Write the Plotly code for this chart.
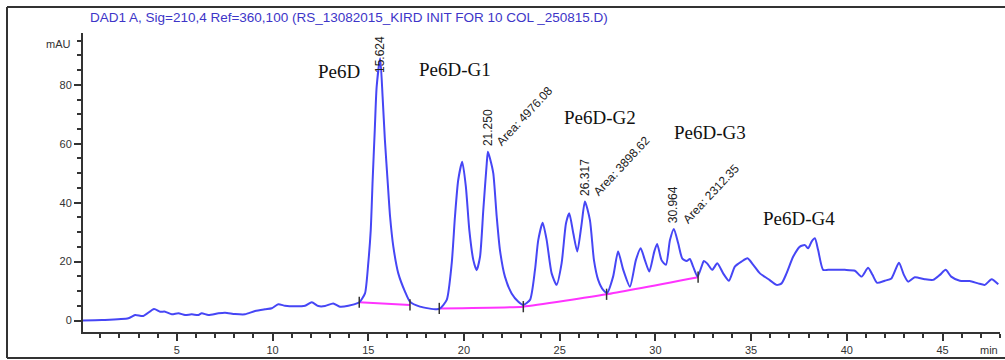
import plotly.graph_objects as go

# Chromatogram trace: retention time (min) and detector signal (mAU)
time_min = [
    0.04, 1.08, 2.47, 2.82, 3.25, 3.81, 4.13, 4.39, 4.74, 5.08, 5.43, 5.78, 6.13, 6.30,
    6.65, 7.17, 7.52, 8.04, 8.56, 9.09, 9.61, 9.96, 10.30, 10.65, 11.17, 11.70, 12.05,
    12.39, 12.74, 13.17, 13.52, 13.96, 14.48,
    14.57, 14.83, 15.00, 15.13, 15.23, 15.34, 15.44, 15.624, 15.75, 15.87, 16.02, 16.14,
    16.31, 16.57, 16.92, 17.18, 17.70, 18.57, 18.75,
    19.10, 19.36, 19.53, 19.70, 19.91, 20.10, 20.28, 20.49, 20.66, 20.84, 21.01, 21.19,
    21.250, 21.36, 21.53, 21.71, 21.88, 22.14, 22.49, 22.84, 23.10,
    23.45, 23.71, 23.88, 24.11, 24.32, 24.58, 24.84, 25.10, 25.33, 25.50, 25.71, 25.92,
    26.15, 26.317, 26.58, 26.79, 27.01, 27.27, 27.48,
    27.79, 28.05, 28.32, 28.67, 28.98, 29.23, 29.45, 29.68, 29.94, 30.09, 30.32, 30.55,
    30.76, 30.964, 31.19, 31.40, 31.63, 31.80, 31.97, 32.20,
    32.41, 32.53, 32.70, 32.97, 33.23, 33.54, 33.84, 34.15, 34.50, 34.81, 35.11, 35.46,
    35.89, 36.33, 36.59, 36.85, 37.20, 37.55, 37.81, 37.98, 38.16, 38.33, 38.50, 38.76,
    39.02, 39.46, 39.90, 40.42, 40.77, 41.11, 41.34, 41.58, 41.98, 42.33, 42.72, 42.98,
    43.20, 43.55, 44.07, 44.51, 44.86, 45.16, 45.45, 45.90, 46.42, 46.86, 47.21, 47.56,
    47.91,
]
signal_mau = [
    0.0, 0.17, 0.75, 1.87, 1.53, 3.9, 3.0, 3.0, 2.1, 2.45, 1.87, 2.1, 1.87, 2.45,
    1.87, 2.45, 2.65, 2.2, 2.1, 3.2, 3.8, 4.15, 5.5, 5.0, 4.8, 5.0, 6.2,
    4.9, 4.9, 5.8, 4.7, 5.0, 6.0,
    6.4, 9.2, 19.4, 30.7, 47.7, 64.6, 79.4, 89.0, 76.0, 61.3, 46.6, 35.3,
    25.1, 16.0, 9.8, 6.4, 4.7, 3.8, 4.1,
    7.0, 19.4, 35.3, 47.7, 53.9, 45.4, 30.7, 20.5, 17.1, 21.7, 37.5, 53.4,
    57.3, 55.0, 50.0, 35.3, 23.9, 14.9, 9.2, 6.4, 5.3,
    7.0, 17.2, 27.3, 33.2, 27.3, 16.0, 12.1, 19.4, 33.0, 36.4, 29.6, 23.4,
    33.0, 40.4, 34.1, 20.5, 13.8, 10.4, 9.4,
    14.9, 23.4, 17.2, 11.5, 20.5, 24.5, 20.5, 16.6, 23.4, 26.0, 20.5, 18.9,
    27.3, 31.1, 26.2, 21.1, 20.2, 20.9, 18.3, 14.9,
    18.3, 20.2, 19.4, 17.2, 19.4, 16.0, 13.5, 18.3, 20.0, 21.1, 18.9, 16.0,
    14.1, 12.1, 12.6, 16.0, 21.7, 25.1, 25.6, 24.5, 26.8, 27.9, 23.9, 17.2,
    17.2, 17.2, 17.2, 16.9, 14.9, 17.9, 15.5, 12.8, 13.5, 14.3, 19.6, 15.5,
    13.2, 14.7, 14.0, 13.8, 15.5, 17.2, 14.9, 13.5, 13.4, 12.6, 12.1, 14.0,
    12.3,
]

# Integration baselines (None splits the two segments)
baseline_time = [14.53, 17.18, None, 18.71, 23.10, 27.45, 32.23]
baseline_mau = [6.2, 5.3, None, 4.1, 4.7, 8.9, 14.7]

# Integrated peaks
retention_times = [15.624, 21.250, 26.317, 30.964]
rt_labels = ["15.624", "21.250", "26.317", "30.964"]
area_labels = [None, "Area: 4976.08", "Area: 3898.62", "Area: 2312.35"]

# Peak group names
group_names = ["Pe6D", "Pe6D-G1", "Pe6D-G2", "Pe6D-G3", "Pe6D-G4"]

x_ticks = [5, 10, 15, 20, 25, 30, 35, 40, 45]
y_ticks = [0, 20, 40, 60, 80]

AX_FONT = "Liberation Sans, Arial, sans-serif"
SERIF = "Liberation Serif, Times New Roman, serif"

# Plot-area box in pixels, used for margins and for the outer frame
L, R, T, B = 83, 1000, 33, 332
W, H = R - L, B - T


def px(xp):
    return (xp - L) / W


def py(yp):
    return (B - yp) / H


fig = go.Figure()

fig.add_trace(go.Scatter(
    x=baseline_time, y=baseline_mau, mode="lines",
    line=dict(color="#ff33ff", width=2, shape="spline", smoothing=0.4),
    connectgaps=False, hoverinfo="skip",
))
fig.add_trace(go.Scatter(
    x=time_min, y=signal_mau, mode="lines",
    line=dict(color="rgb(70,70,245)", width=2, shape="spline", smoothing=0.6),
    hoverinfo="skip",
))
# integration start/stop marks
fig.add_trace(go.Scatter(
    x=[t for t in baseline_time if t is not None],
    y=[v for v in baseline_mau if v is not None],
    mode="markers",
    marker=dict(symbol="line-ns", size=8, line=dict(color="#333333", width=1.5)),
    hoverinfo="skip",
))

annotations = []
peak_height = {t: v for t, v in zip(time_min, signal_mau)}
rt_shift = [-17, 4, 4, 4]
for rt, lab, area, ys in zip(retention_times, rt_labels, area_labels, rt_shift):
    h = peak_height[rt]
    annotations.append(dict(
        x=rt, y=h, text=lab, textangle=-90, showarrow=False,
        xanchor="center", yanchor="bottom", yshift=ys,
        font=dict(family=AX_FONT, size=12, color="#222222"),
    ))
    if area:
        annotations.append(dict(
            x=rt, y=h, text=area, textangle=-47, showarrow=False,
            xanchor="left", yanchor="bottom", xshift=3, yshift=0,
            font=dict(family=AX_FONT, size=12, color="#222222"),
        ))

group_pos = [(13.47, 84.4), (19.53, 85.1), (27.1, 68.8), (32.85, 63.7), (37.49, 34.8)]
for name, (gx, gy) in zip(group_names, group_pos):
    annotations.append(dict(
        x=gx, y=gy, text=name, showarrow=False, xanchor="center", yanchor="middle",
        font=dict(family=SERIF, size=19, color="#111111"),
    ))

annotations.append(dict(
    x=0, y=94, xref="paper", yref="y", text="mAU", showarrow=False,
    xanchor="right", yanchor="middle", xshift=-10,
    font=dict(family=AX_FONT, size=11, color="#333333"),
))
annotations.append(dict(
    x=1.0, y=0, xref="paper", yref="paper", text="min", showarrow=False,
    xanchor="right", yanchor="top", yshift=-10,
    font=dict(family=AX_FONT, size=11, color="#333333"),
))
annotations.append(dict(
    x=px(349), y=py(17), xref="paper", yref="paper",
    text="DAD1 A, Sig=210,4 Ref=360,100 (RS_13082015_KIRD INIT FOR 10 COL _250815.D)",
    showarrow=False, xanchor="center", yanchor="middle",
    font=dict(family=AX_FONT, size=13.5, color="#3d35c8"),
))

# Outer frame (left, top, bottom)
frame = dict(color="#333333", width=2)
shapes = [
    dict(type="line", xref="paper", yref="paper", x0=px(7), x1=px(7), y0=py(7), y1=py(358), line=frame),
    dict(type="line", xref="paper", yref="paper", x0=px(7), x1=px(1005), y0=py(7), y1=py(7), line=frame),
    dict(type="line", xref="paper", yref="paper", x0=px(7), x1=px(1005), y0=py(358), y1=py(358), line=frame),
]

fig.update_layout(
    width=1005, height=360,
    margin=dict(l=L, r=1005 - R, t=T, b=360 - B),
    paper_bgcolor="white", plot_bgcolor="white",
    showlegend=False,
    annotations=annotations,
    shapes=shapes,
    xaxis=dict(
        range=[0.1, 48.0], tickvals=x_ticks, ticktext=[str(v) for v in x_ticks],
        ticks="outside", ticklen=7, tickwidth=1.5, tickcolor="#333333",
        minor=dict(dtick=1, ticks="outside", ticklen=4, tickwidth=1.5, tickcolor="#333333"),
        showline=True, linecolor="#333333", linewidth=2, showgrid=False, zeroline=False,
        tickfont=dict(family=AX_FONT, size=11, color="#333333"),
    ),
    yaxis=dict(
        range=[-3.9, 97.6], tickvals=y_ticks, ticktext=[str(v) for v in y_ticks],
        ticks="outside", ticklen=7, tickwidth=1.5, tickcolor="#333333",
        minor=dict(dtick=5, ticks="outside", ticklen=4, tickwidth=1.5, tickcolor="#333333"),
        showline=True, linecolor="#333333", linewidth=2, showgrid=False, zeroline=False,
        tickfont=dict(family=AX_FONT, size=11, color="#333333"),
    ),
)

fig.write_html("out.html")
